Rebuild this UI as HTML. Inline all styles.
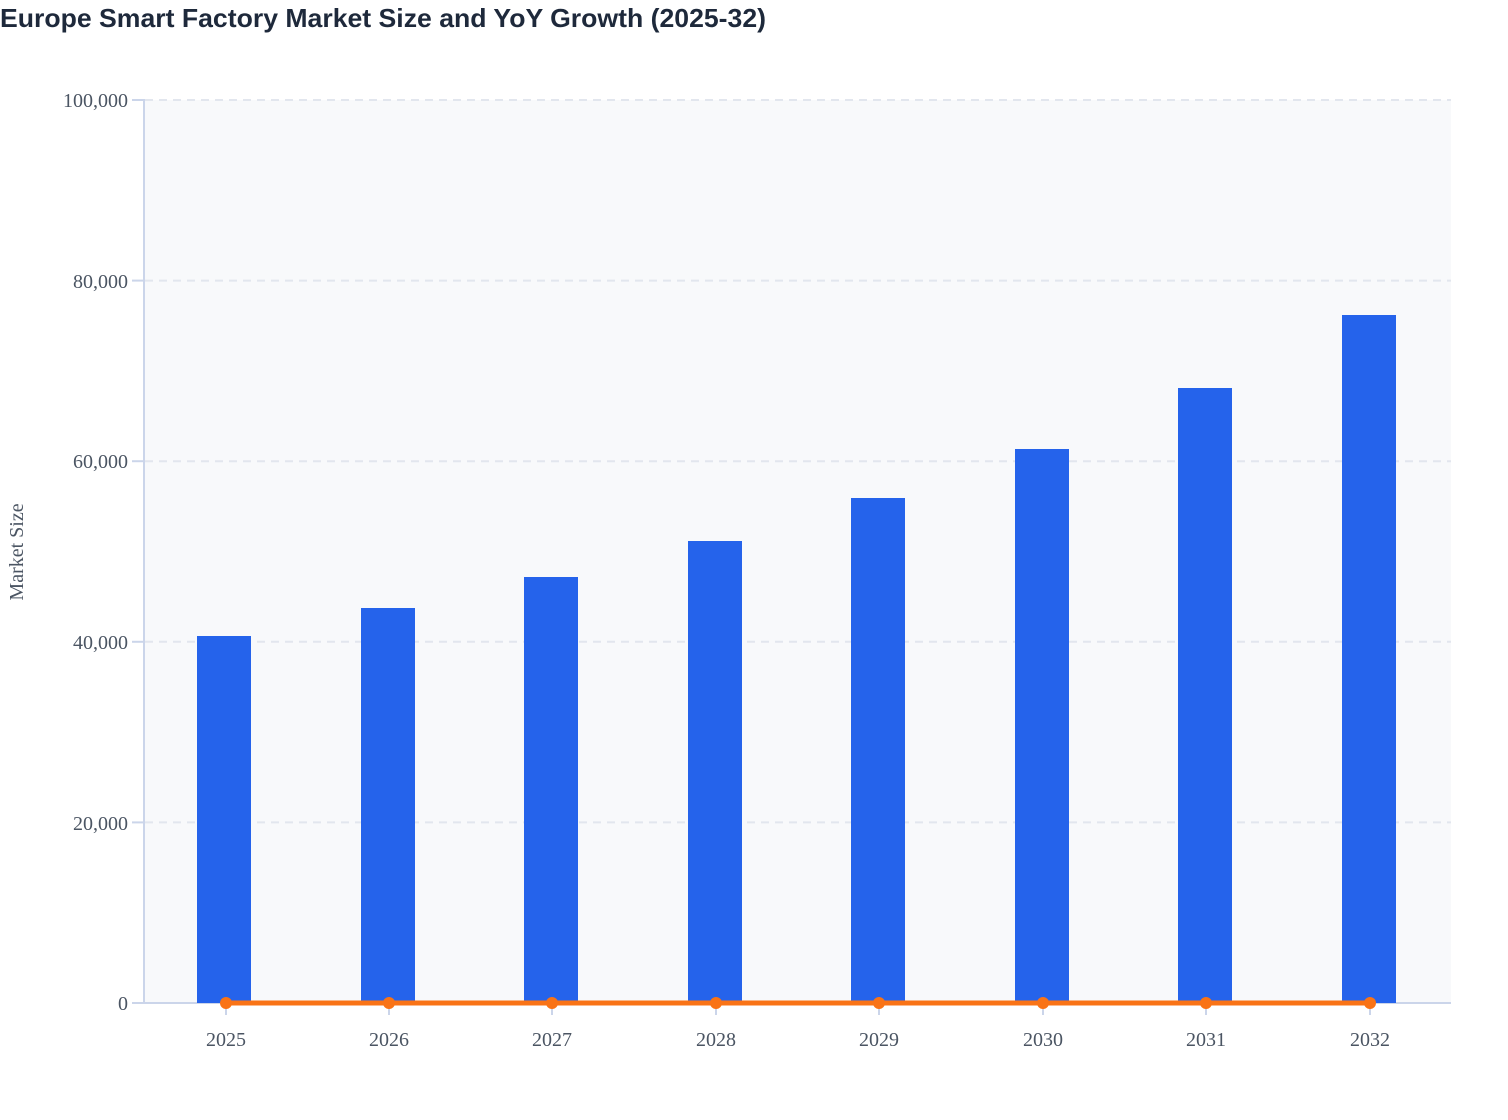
<!DOCTYPE html>
<html><head><meta charset="utf-8"><style>
body{margin:0;background:#fff}
svg{display:block}
</style></head><body>
<svg width="1508" height="1120" xmlns="http://www.w3.org/2000/svg">
<text x="0" y="27" font-family="Liberation Sans, sans-serif" font-size="26" font-weight="bold" fill="#1e293b" textLength="766" lengthAdjust="spacingAndGlyphs">Europe Smart Factory Market Size and YoY Growth (2025-32)</text>
<rect x="145" y="100" width="1306" height="903" fill="#f8f9fb"/>
<g stroke="#e2e6ee" stroke-width="2" stroke-dasharray="8,6">
<line x1="145" y1="100" x2="1451" y2="100"/>
<line x1="145" y1="280.6" x2="1451" y2="280.6"/>
<line x1="145" y1="461.2" x2="1451" y2="461.2"/>
<line x1="145" y1="641.8" x2="1451" y2="641.8"/>
<line x1="145" y1="822.4" x2="1451" y2="822.4"/>
</g>
<g stroke="#cbd5ea" stroke-width="2">
<line x1="144" y1="100" x2="144" y2="1003"/>
<line x1="132" y1="1003" x2="1451" y2="1003"/>
<line x1="132" y1="100" x2="145" y2="100"/>
<line x1="132" y1="280.6" x2="145" y2="280.6"/>
<line x1="132" y1="461.2" x2="145" y2="461.2"/>
<line x1="132" y1="641.8" x2="145" y2="641.8"/>
<line x1="132" y1="822.4" x2="145" y2="822.4"/>
</g>
<g font-family="Liberation Serif, serif" font-size="20" fill="#4b5563" text-anchor="end">
<text x="128" y="107">100,000</text>
<text x="128" y="288">80,000</text>
<text x="128" y="468">60,000</text>
<text x="128" y="649">40,000</text>
<text x="128" y="830">20,000</text>
<text x="128" y="1010">0</text>
</g>
<text transform="translate(23,552) rotate(-90)" font-family="Liberation Serif, serif" font-size="20" fill="#4b5563" text-anchor="middle">Market Size</text>
<g fill="#2563eb">
<rect x="197" y="636" width="54" height="367"/>
<rect x="361" y="608" width="54" height="395"/>
<rect x="524" y="577" width="54" height="426"/>
<rect x="688" y="541" width="54" height="462"/>
<rect x="851" y="498" width="54" height="505"/>
<rect x="1015" y="449" width="54" height="554"/>
<rect x="1178" y="388" width="54" height="615"/>
<rect x="1342" y="315" width="54" height="688"/>
</g>
<g stroke="#cbd5ea" stroke-width="2">
<line x1="226" y1="1003" x2="226" y2="1015"/><line x1="389" y1="1003" x2="389" y2="1015"/>
<line x1="552" y1="1003" x2="552" y2="1015"/><line x1="716" y1="1003" x2="716" y2="1015"/>
<line x1="879" y1="1003" x2="879" y2="1015"/><line x1="1043" y1="1003" x2="1043" y2="1015"/>
<line x1="1206" y1="1003" x2="1206" y2="1015"/><line x1="1370" y1="1003" x2="1370" y2="1015"/>
</g>
<line x1="226" y1="1003" x2="1370" y2="1003" stroke="#f97316" stroke-width="5"/>
<g fill="#f97316">
<circle cx="226" cy="1003" r="6"/><circle cx="389" cy="1003" r="6"/><circle cx="552" cy="1003" r="6"/><circle cx="716" cy="1003" r="6"/>
<circle cx="879" cy="1003" r="6"/><circle cx="1043" cy="1003" r="6"/><circle cx="1206" cy="1003" r="6"/><circle cx="1370" cy="1003" r="6"/>
</g>
<g font-family="Liberation Serif, serif" font-size="20" fill="#4b5563" text-anchor="middle">
<text x="226" y="1046">2025</text><text x="389" y="1046">2026</text><text x="552" y="1046">2027</text><text x="716" y="1046">2028</text>
<text x="879" y="1046">2029</text><text x="1043" y="1046">2030</text><text x="1206" y="1046">2031</text><text x="1370" y="1046">2032</text>
</g>
</svg>
</body></html>
